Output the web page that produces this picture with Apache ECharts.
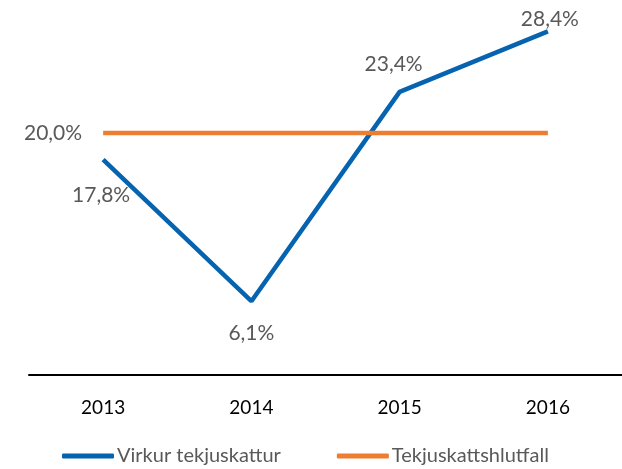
<!DOCTYPE html>
<html><head><meta charset="utf-8">
<script src="https://cdn.jsdelivr.net/npm/echarts@6/dist/echarts.min.js"></script>
<style>html,body{margin:0;padding:0;background:#fff}#c{width:622px;height:469px}</style>
</head><body><div id="c"></div>
<script>
const categories = ['2013', '2014', '2015', '2016'];
const virkur = [17.8, 6.1, 23.4, 28.4];
const hlutfall = [20.0, 20.0, 20.0, 20.0];
const seriesNames = ['Virkur tekjuskattur', 'Tekjuskattshlutfall'];
const colors = ['#0563B0', '#ED7D31'];

const fmt = v => v.toFixed(1).replace('.', ',') + '%';
const lblFont = {fontFamily: 'Lato', fontSize: 21, color: '#595959'};
const blueLabels = [
  {position: 'bottom', distance: 25, offset: [-2, 0]},
  {position: 'bottom', distance: 22, offset: [0, 0]},
  {position: 'top', distance: 17, offset: [-6, 0]},
  {position: 'top', distance: 2, offset: [2, 0]}
];
const chart = echarts.init(document.getElementById('c'));
chart.setOption({
  animation: false,
  grid: {left: 29, width: 596, top: 12, bottom: 94},
  xAxis: {
    type: 'category', data: categories, boundaryGap: true,
    axisLine: {lineStyle: {color: '#000', width: 2}},
    axisTick: {show: false},
    axisLabel: {fontFamily: 'Lato', fontSize: 19, color: '#000', margin: 23}
  },
  yAxis: {type: 'value', min: 0, max: 30, show: false, splitLine: {show: false}},
  legend: {
    left: 62, top: 446, padding: 0, itemGap: 56, itemWidth: 52, itemHeight: 5, icon: 'roundRect',
    textStyle: {fontFamily: 'Lato', fontSize: 20, color: '#595959', padding: [0, 0, 0, -2]},
    data: seriesNames.map((n, i) => ({name: n, itemStyle: {color: colors[i], opacity: 1}}))
  },
  series: [
    {
      name: seriesNames[0], type: 'line', symbol: 'circle', symbolSize: 0, showSymbol: true,
      itemStyle: {color: colors[0]}, color: colors[0],
      lineStyle: {width: 4.5, color: colors[0]},
      data: virkur.map((v, i) => ({value: v, label: Object.assign({show: true, formatter: p => fmt(p.value)}, lblFont, blueLabels[i])}))
    },
    {
      name: seriesNames[1], type: 'line', symbol: 'circle', symbolSize: 0, showSymbol: true,
      itemStyle: {color: colors[1]}, color: colors[1],
      lineStyle: {width: 4.5, color: colors[1]},
      data: hlutfall.map((v, i) => ({value: v, label: Object.assign({show: i === 0, position: 'left', distance: 21, formatter: p => fmt(p.value)}, lblFont)}))
    }
  ]
});
</script></body></html>
